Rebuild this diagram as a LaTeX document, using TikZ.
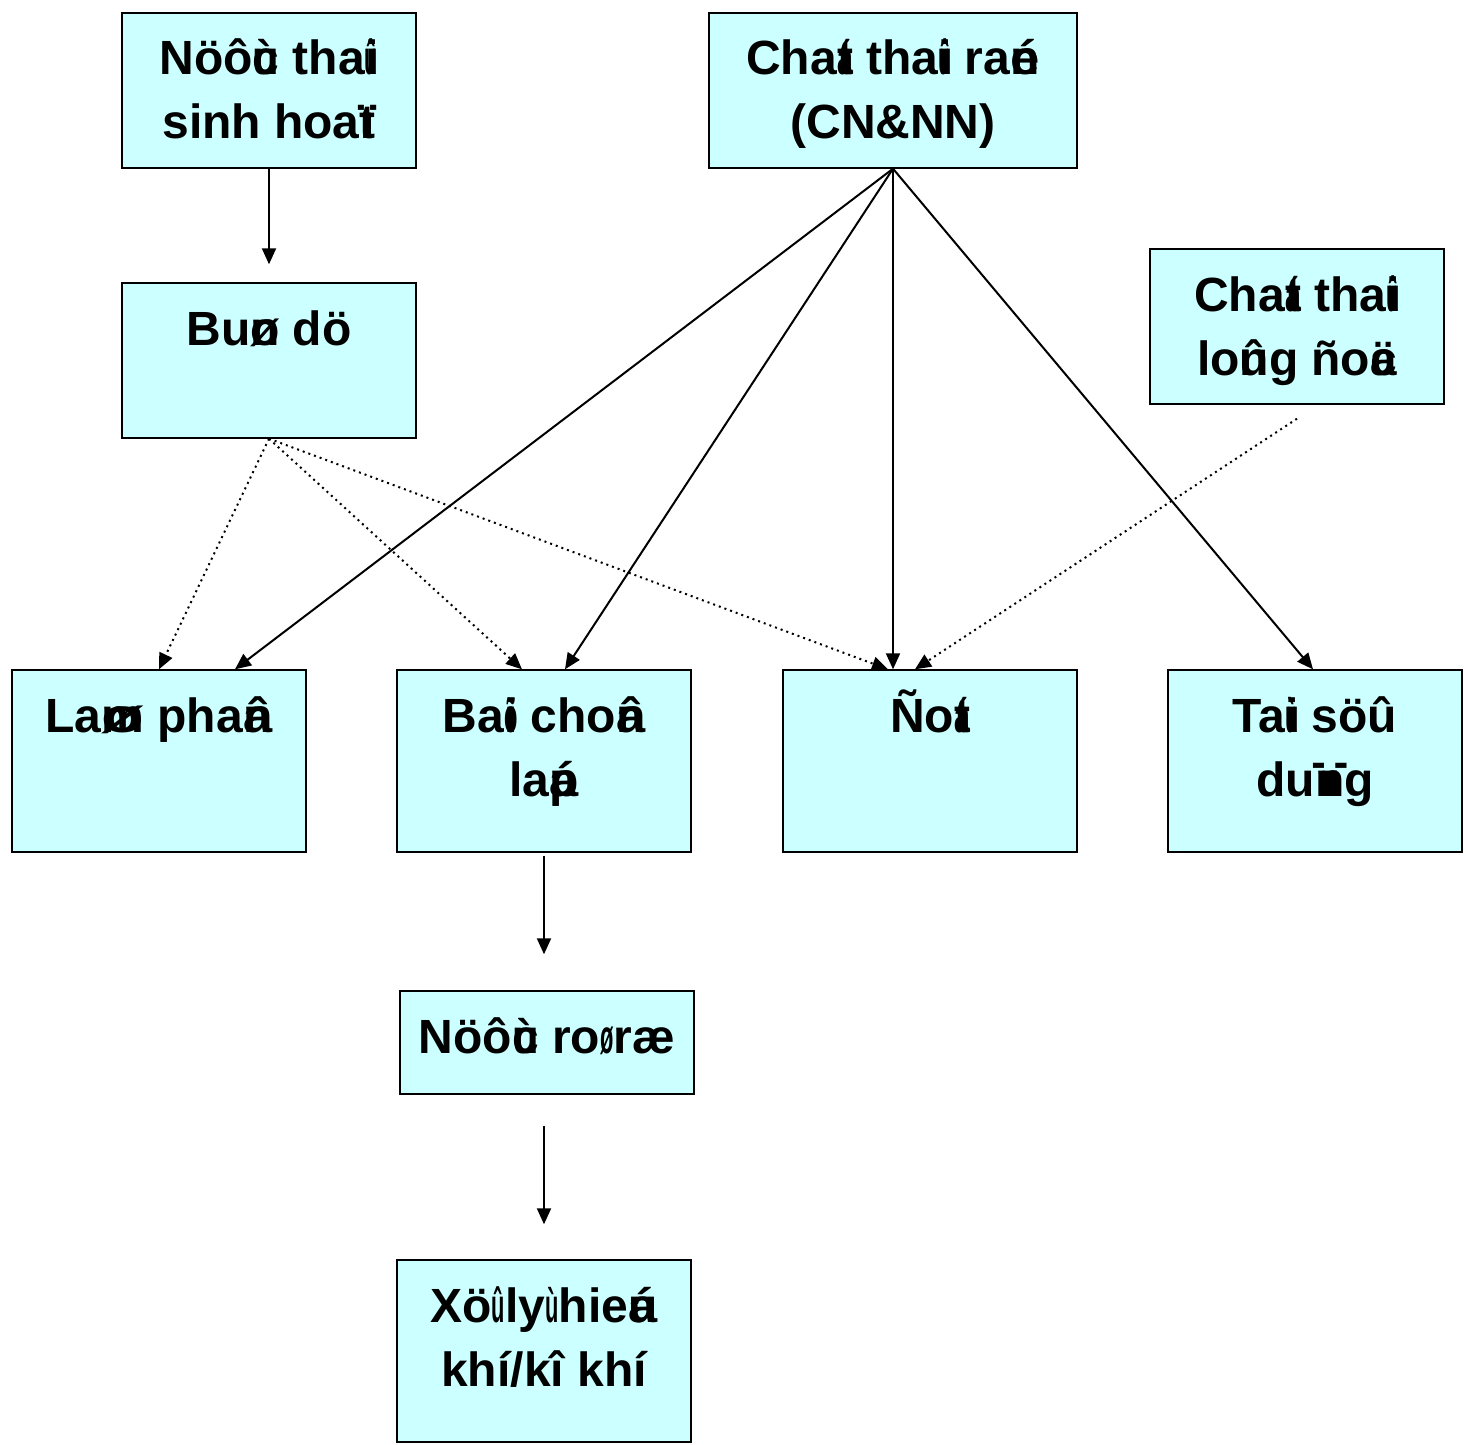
\documentclass[tikz,border=0pt]{standalone}
\usepackage{fontspec}
\setmainfont{Liberation Sans}
\usetikzlibrary{arrows.meta}
\definecolor{boxcyan}{RGB}{204,255,255}
\newlength{\daulen}
\newcommand{\dau}[2]{\settowidth{\daulen}{#2}\rlap{\resizebox{\daulen}{\height}{#1}}#2}
\newcommand{\boxtext}[3]{\parbox[c][#1][t]{#2}{\centering\rule{0pt}{31pt}#3}}

\begin{document}
\begin{tikzpicture}[x=0.5pt, y=-0.5pt,
	box/.style={draw, line width=0.7pt, fill=boxcyan, inner sep=0pt, font=\fontsize{24}{32}\selectfont\bfseries},
	flow/.style={line width=1pt, -{Triangle[length=8pt,width=7pt]}},
	sludge/.style={line width=1pt, dotted, -{Triangle[length=8pt,width=7pt]}}]
	\useasboundingbox (0,0) rectangle (1468,1445);
	% sources
	\node[box] (nuocthai) at (269,90.5) {\boxtext{77.5pt}{147pt}{Nöô\dau{ù}{c} tha\dau{û}{i}\\ sinh hoa\dau{ï}{t}}};
	\node[box] (chatran) at (893,90.5) {\boxtext{77.5pt}{184pt}{Cha\dau{á}{t} tha\dau{û}{i} ra\dau{é}{n}\\ (CN\&NN)}};
	\node[box] (bundu) at (269,360.5) {\boxtext{77.5pt}{147pt}{Bu\dau{ø}{n} dö}};
	\node[box] (longdoc) at (1297,326.5) {\boxtext{77.5pt}{147pt}{Cha\dau{á}{t} tha\dau{û}{i}\\ lo\dau{û}{n}g ño\dau{ä}{c}}};
	% treatment row
	\node[box] (lamphan) at (159,761) {\boxtext{91pt}{147pt}{La\dau{ø}{m} pha\dau{â}{n}}};
	\node[box] (baichon) at (544,761) {\boxtext{91pt}{147pt}{Ba\dau{õ}{i} cho\dau{â}{n}\\ la\dau{á}{p}}};
	\node[box] (dot) at (930,761) {\boxtext{91pt}{147pt}{Ño\dau{á}{t}}};
	\node[box] (taisd) at (1315,761) {\boxtext{91pt}{147pt}{Ta\dau{ù}{i} söû\\ du\dau{ï}{n}g}};
	% leachate
	\node[box] (nuocro) at (547,1042.5) {\boxtext{51.5pt}{147pt}{Nöô\dau{ù}{c} ro\dau{ø}{\ }ræ}};
	\node[box] (xuly) at (544,1351) {\boxtext{91pt}{147pt}{Xö\dau{û}{\ }ly\dau{ù}{\ }hie\dau{á}{u}\\ khí/kî khí}};
	% solid flows
	\draw[flow] (nuocthai.south) -- ([yshift=9pt]bundu.north);
	\draw[flow] (chatran.south) -- ([xshift=38pt]lamphan.north);
	\draw[flow] (chatran.south) -- ([xshift=10.5pt]baichon.north);
	\draw[flow] (chatran.south) -- ([xshift=-18.5pt]dot.north);
	\draw[flow] (chatran.south) -- ([xshift=-1pt]taisd.north);
	\draw[flow] ([yshift=-1.5pt]baichon.south) -- ([yshift=18pt]baichon.south |- nuocro.north);
	\draw[flow] ([yshift=-15.5pt]xuly.north |- nuocro.south) -- ([yshift=17.5pt]xuly.north);
	% dotted flows
	\draw[sludge] (bundu.south) -- (lamphan.north);
	\draw[sludge] (bundu.south) -- ([xshift=-11pt]baichon.north);
	\draw[sludge] (bundu.south) -- ([xshift=-21pt]dot.north);
	\draw[sludge] ([yshift=-7pt]longdoc.south) -- ([xshift=-7.5pt]dot.north);
\end{tikzpicture}
\end{document}
